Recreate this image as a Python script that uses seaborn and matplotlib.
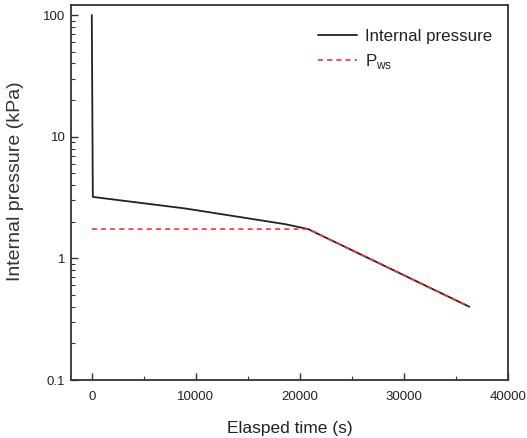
import matplotlib
matplotlib.use("Agg")
import matplotlib.pyplot as plt
import numpy as np
import pandas as pd
import seaborn as sns
from matplotlib.ticker import LogLocator, FixedLocator, MultipleLocator

# DATA
time_internal = [0, 100, 9000, 18600, 20800, 36300]
p_internal = [100, 3.2, 2.57, 1.91, 1.74, 0.40]
time_pws = [0, 20800, 36300]
p_pws = [1.74, 1.74, 0.40]
x_ticks = [0, 10000, 20000, 30000, 40000]
y_ticks = [0.1, 1, 10, 100]
y_ticklabels = ["0.1", "1", "10", "100"]

df_int = pd.DataFrame({"time": time_internal, "p": p_internal})
df_pws = pd.DataFrame({"time": time_pws, "p": p_pws})

sns.set_style("white")
plt.rcParams["font.family"] = ["Liberation Sans", "DejaVu Sans"]

fig = plt.figure(figsize=(5.27, 4.38), dpi=100)
ax = fig.add_axes([0.1347, 0.1324, 0.829, 0.8562])

sns.lineplot(data=df_int, x="time", y="p", ax=ax, color="#222222", lw=1.3,
             label="Internal pressure")
sns.lineplot(data=df_pws, x="time", y="p", ax=ax, color="#ff3030", lw=1.2,
             linestyle=(0, (3, 2.5)), label="P$_{\\mathregular{ws}}$")

ax.set_yscale("log")
ax.set_xlim(-2000, 40000)
ax.set_ylim(0.1, 121)
ax.xaxis.set_major_locator(FixedLocator(x_ticks))
ax.xaxis.set_minor_locator(MultipleLocator(5000))
ax.yaxis.set_major_locator(FixedLocator(y_ticks))
ax.yaxis.set_minor_locator(LogLocator(base=10, subs=np.arange(2, 10)))
ax.set_yticklabels(y_ticklabels)
ax.set_xticklabels([str(v) for v in x_ticks])

ax.tick_params(axis="both", which="major", direction="in", length=5, width=1,
               labelsize=9.5, color="#333333", labelcolor="#222222",
               left=True, bottom=True, top=False, right=False)
ax.tick_params(axis="x", which="major", pad=8)
ax.tick_params(axis="y", which="major", pad=4)
ax.tick_params(axis="both", which="minor", direction="in", length=3, width=0.8,
               color="#333333", left=True, bottom=True, top=False, right=False)
for s in ax.spines.values():
    s.set_color("#333333")
    s.set_linewidth(1.3)

ax.set_xlabel("Elasped time (s)", fontsize=12.5, color="#222222", labelpad=13)
ax.set_ylabel("Internal pressure (kPa)", fontsize=14, color="#333333")
ax.yaxis.set_label_coords(-0.107, 0.53)

leg = ax.legend(loc="upper right", frameon=False, fontsize=12.2, handlelength=2.3,
                handletextpad=0.5, borderaxespad=0.3, labelspacing=0.45,
                bbox_to_anchor=(0.992, 0.967))
for t in leg.get_texts():
    t.set_color("#222222")

fig.savefig("out.png", dpi=100)
